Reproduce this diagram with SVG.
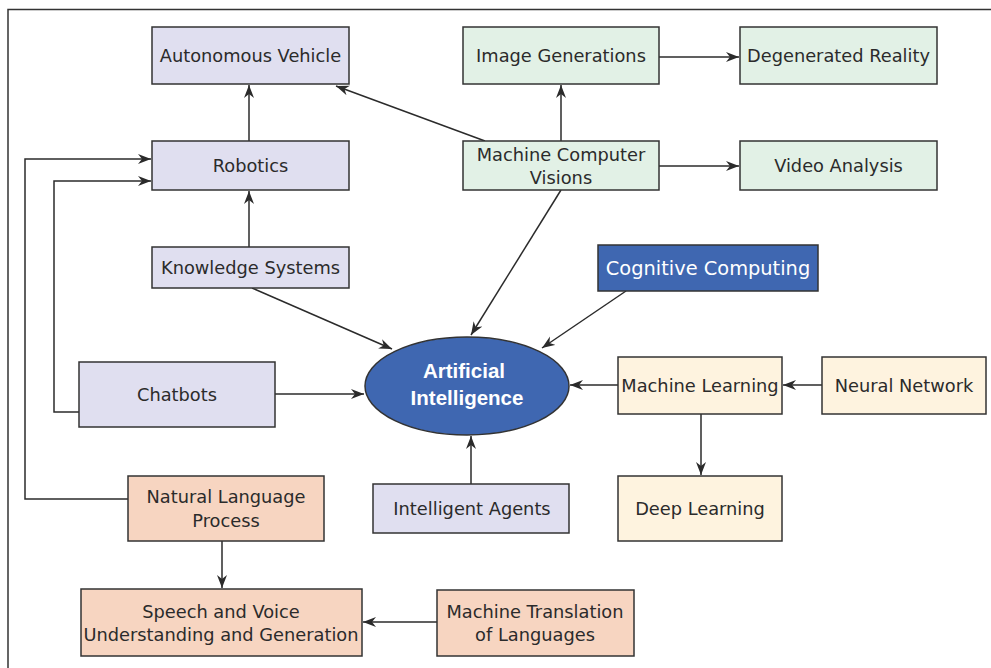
<svg xmlns="http://www.w3.org/2000/svg" width="991" height="668" viewBox="0 0 991 668">
<style>
.box{stroke:#333;stroke-width:1.5}
.lav{fill:#e0dff0}
.grn{fill:#e2f1e6}
.blu{fill:#3f67b1}
.crm{fill:#fef3df}
.sal{fill:#f7d5c1}
text{font-family:"DejaVu Sans","Liberation Sans",sans-serif;font-size:17.8px;fill:#2b2b2b;text-anchor:middle}
.w{fill:#fff;font-size:19.4px}
.b{fill:#fff;font-family:"Liberation Sans",Arial,sans-serif;font-size:20.5px;font-weight:bold}
.c{fill:none;stroke:#2b2b2b;stroke-width:1.5}
</style>
<defs>
<marker id="ah" markerUnits="userSpaceOnUse" markerWidth="15" markerHeight="11" refX="13" refY="5" orient="auto">
<path d="M0,0 L13,5 L0,10 L4,5 z" fill="#2b2b2b"/>
</marker>
</defs>
<rect width="991" height="668" fill="#fff"/>
<path d="M8,668 V9.5 H991" fill="none" stroke="#333" stroke-width="1.5"/>
<g id="connectors">
<path class="c" d="M249,141 V85" marker-end="url(#ah)"/>
<path class="c" d="M249,247 V191" marker-end="url(#ah)"/>
<path class="c" d="M485,141 L336,86" marker-end="url(#ah)"/>
<path class="c" d="M561,141 V85" marker-end="url(#ah)"/>
<path class="c" d="M659,57 H739" marker-end="url(#ah)"/>
<path class="c" d="M659,166 H739" marker-end="url(#ah)"/>
<path class="c" d="M561,190 L471,335" marker-end="url(#ah)"/>
<path class="c" d="M626,291 L542,348" marker-end="url(#ah)"/>
<path class="c" d="M252,288 L392,349" marker-end="url(#ah)"/>
<path class="c" d="M275,394 H364" marker-end="url(#ah)"/>
<path class="c" d="M618,385 H570" marker-end="url(#ah)"/>
<path class="c" d="M822,385 H783" marker-end="url(#ah)"/>
<path class="c" d="M701,414 V475" marker-end="url(#ah)"/>
<path class="c" d="M471,484 V436" marker-end="url(#ah)"/>
<path class="c" d="M128,499 H25 V159 H151" marker-end="url(#ah)"/>
<path class="c" d="M79,412 H54 V181 H151" marker-end="url(#ah)"/>
<path class="c" d="M222,541 V588" marker-end="url(#ah)"/>
<path class="c" d="M437,622 H363" marker-end="url(#ah)"/>
</g>
<g id="autonomous-vehicle"><rect class="box lav" x="152" y="27" width="197" height="57"/><text x="250.5" y="62">Autonomous Vehicle</text></g>
<g id="image-generations"><rect class="box grn" x="463" y="27" width="196" height="57"/><text x="561" y="62">Image Generations</text></g>
<g id="degenerated-reality"><rect class="box grn" x="740" y="27" width="197" height="57"/><text x="838.5" y="62">Degenerated Reality</text></g>
<g id="robotics"><rect class="box lav" x="152" y="141" width="197" height="49"/><text x="250.5" y="172">Robotics</text></g>
<g id="machine-computer-visions"><rect class="box grn" x="463" y="141" width="196" height="49"/><text x="561" y="160.5">Machine Computer</text><text x="561" y="183.5">Visions</text></g>
<g id="video-analysis"><rect class="box grn" x="740" y="141" width="197" height="49"/><text x="838.5" y="172">Video Analysis</text></g>
<g id="knowledge-systems"><rect class="box lav" x="152" y="247" width="197" height="41"/><text x="250.5" y="274">Knowledge Systems</text></g>
<g id="cognitive-computing"><rect class="box blu" x="598" y="245" width="220" height="46"/><text class="w" x="708" y="275">Cognitive Computing</text></g>
<g id="chatbots"><rect class="box lav" x="79" y="362" width="196" height="65"/><text x="177" y="400.5">Chatbots</text></g>
<g id="artificial-intelligence"><ellipse class="box blu" cx="467" cy="386" rx="102" ry="49"/><text class="b" x="464" y="378">Artificial</text><text class="b" x="467" y="404.5">Intelligence</text></g>
<g id="machine-learning"><rect class="box crm" x="618" y="357" width="164" height="57"/><text x="700" y="391.5">Machine Learning</text></g>
<g id="neural-network"><rect class="box crm" x="822" y="357" width="164" height="57"/><text x="904" y="391.5">Neural Network</text></g>
<g id="deep-learning"><rect class="box crm" x="618" y="476" width="164" height="65"/><text x="700" y="514.5">Deep Learning</text></g>
<g id="intelligent-agents"><rect class="box lav" x="373" y="484" width="196" height="49"/><text x="472" y="514.5">Intelligent Agents</text></g>
<g id="natural-language-process"><rect class="box sal" x="128" y="476" width="196" height="65"/><text x="226" y="502.5">Natural Language</text><text x="226" y="526.5">Process</text></g>
<g id="speech-voice"><rect class="box sal" x="81" y="589" width="281" height="67"/><text x="221" y="617.5">Speech and Voice</text><text x="221" y="640.5">Understanding and Generation</text></g>
<g id="machine-translation"><rect class="box sal" x="437" y="590" width="197" height="66"/><text x="535" y="617.5">Machine Translation</text><text x="535" y="640.5">of Languages</text></g>
</svg>
